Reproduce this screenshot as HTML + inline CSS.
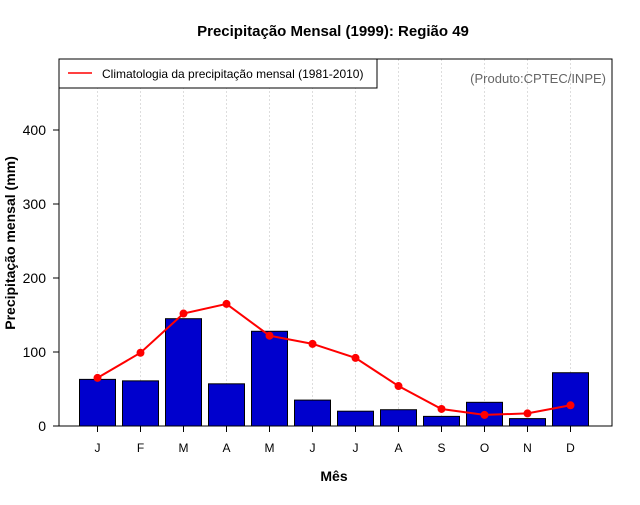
<!DOCTYPE html>
<html><head><meta charset="utf-8"><style>
body{margin:0;background:#fff;}
svg text{font-family:"Liberation Sans",sans-serif;}
</style></head><body>
<svg id="chart" width="640" height="500">
<rect x="0" y="0" width="640" height="500" fill="#fff"/>
<text x="333" y="36" text-anchor="middle" font-size="15" font-weight="bold">Precipitação Mensal (1999): Região 49</text>
<g id="grid"></g>
<g id="bars"></g>
<g id="line"></g>
<rect x="59" y="59" width="553" height="367" fill="none" stroke="#000" stroke-width="1"/>
<g id="yaxis"></g>
<g id="xaxis"></g>
<text transform="translate(15,243) rotate(-90)" text-anchor="middle" font-size="14" font-weight="bold">Precipitação mensal (mm)</text>
<text x="334" y="481" text-anchor="middle" font-size="14" font-weight="bold">Mês</text>
<g>
<rect x="59" y="59" width="318" height="29" fill="#fff" stroke="#000"/>
<line x1="68" y1="73" x2="92" y2="73" stroke="#f00" stroke-width="1.5"/>
<text x="102" y="78" font-size="12">Climatologia da precipitação mensal (1981-2010)</text>
</g>
<text x="606" y="83" text-anchor="end" font-size="13" fill="#666">(Produto:CPTEC/INPE)</text>
</svg>
<script>
const months = ["J","F","M","A","M","J","J","A","S","O","N","D"];
const precip = [63,61,145,57,128,35,20,22,13,32,10,72];
const climatology = [65,99,152,165,122,111,92,54,23,15,17,28];
const yTicks = [0,100,200,300,400];
const NS="http://www.w3.org/2000/svg";
const y = v => 426 - v*0.74;
const x = i => 97.5 + i*43;
function mk(tag, attrs, parent){const e=document.createElementNS(NS,tag);for(const k in attrs)e.setAttribute(k,attrs[k]);document.getElementById(parent).appendChild(e);return e;}
months.forEach((m,i)=>{
  const g=mk('line',{x1:x(i),x2:x(i),y1:59,y2:426,stroke:'#ddd','stroke-dasharray':'2,2'},'grid');
  
  
  const b=mk('rect',{x:x(i)-18,y:y(precip[i]),width:36,height:426-y(precip[i]),fill:'#0000cd',stroke:'#000','stroke-width':1},'bars');
  
  
  const t=mk('line',{x1:x(i),x2:x(i),y1:426,y2:432,stroke:'#000'},'xaxis');
  
  
  const l=mk('text',{x:x(i),y:452,'text-anchor':'middle','font-size':12},'xaxis');
  l.textContent=m;
  
  
});
const pl=mk('polyline',{points:climatology.map((v,i)=>x(i)+','+y(v)).join(' '),fill:'none',stroke:'#f00','stroke-width':2},'line');


climatology.forEach((v,i)=>{
  const c=mk('circle',{cx:x(i),cy:y(v),r:4,fill:'#f00'},'line');
  
  
});
yTicks.forEach(v=>{
  const t=mk('line',{x1:53,x2:59,y1:y(v),y2:y(v),stroke:'#000'},'yaxis');
  
  
  const l=mk('text',{x:46,y:y(v)+5,'text-anchor':'end','font-size':14},'yaxis');
  l.textContent=v;
  
  
});
</script>
</body></html>
